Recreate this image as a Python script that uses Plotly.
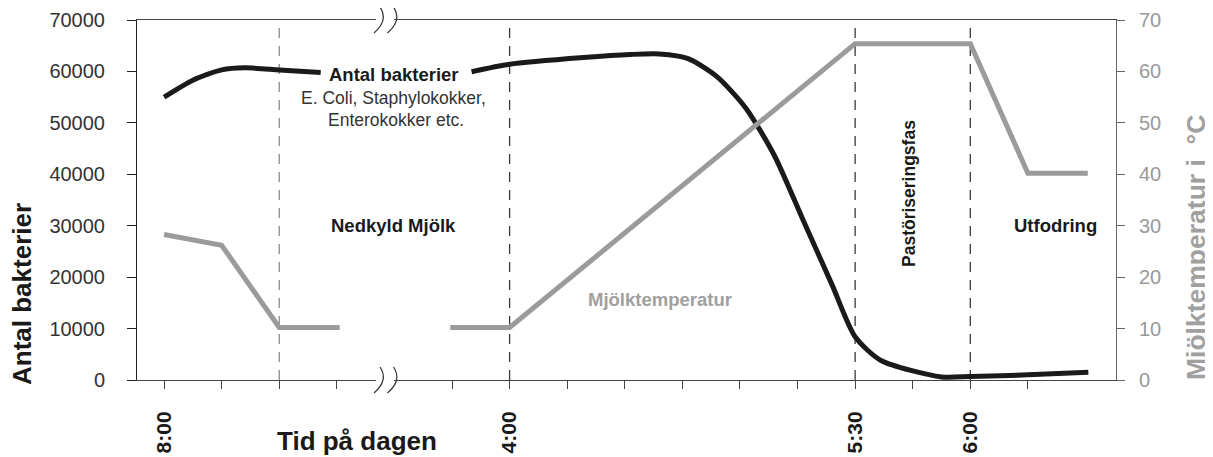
import plotly.graph_objects as go

# ---------------- data ----------------
tick_index = [0, 1, 2, 3, 5, 6, 7, 8, 9, 10, 11, 12, 13, 14, 15]
tick_text = ["8:00", "", "", "", "", "4:00", "", "", "", "", "", "5:30", "", "6:00", ""]

# bacteria count (left axis), two segments (gap for the label)
bact_x1 = [0, 0.5, 1.0, 1.4, 2.0, 2.72]
bact_y1 = [55000, 58300, 60300, 60700, 60300, 59800]
bact_x2 = [5.34, 6.0, 7.28, 8.1, 8.6, 9.1, 9.6, 10.1, 10.6, 11.1, 11.6, 12.0, 12.45, 13.5, 14.0, 15.0, 16.05]
bact_y2 = [59950, 61400, 62700, 63300, 63400, 62500, 59000, 52900, 43600, 31000, 18500, 8400, 3800, 600, 700, 1000, 1500]

# milk temperature (right axis), two segments (axis break)
temp_x1 = [0, 1, 2, 3.05]
temp_y1 = [28.3, 26.2, 10.2, 10.2]
temp_x2 = [4.97, 6, 12, 14, 15, 16.04]
temp_y2 = [10.2, 10.2, 65.4, 65.4, 40.2, 40.2]

phase_lines = [2, 6, 12, 14]
phase_colors = ["#8a8a8a", "#3a3a3a", "#3a3a3a", "#3a3a3a"]

# ---------------- layout geometry ----------------
# the page body adds an 8px margin, so the figure is made 8px smaller
# and all page-pixel positions below are converted accordingly
OFF = 8
W, H = 1213 - OFF, 457 - OFF
L_PAGE, T_PAGE = 137, 20
PW, PH = 979, 360
L, T = L_PAGE - OFF, T_PAGE - OFF
R, B = W - L - PW, H - T - PH
XMIN, XMAX = -0.47, 16.53


def px(x):
    return (x - L_PAGE) / PW


def py(y):
    return 1 - (y - T_PAGE) / PH


FONT = "Liberation Sans, Arial, Helvetica, sans-serif"
BLACK = "#1a1a1a"
GRAY = "#9b9b9b"

fig = go.Figure()
fig.add_trace(go.Scatter(x=bact_x1, y=bact_y1, mode="lines", line=dict(color=BLACK, width=5, shape="spline", smoothing=0.7), yaxis="y", hoverinfo="skip"))
fig.add_trace(go.Scatter(x=bact_x2, y=bact_y2, mode="lines", line=dict(color=BLACK, width=5, shape="spline", smoothing=0.7), yaxis="y", hoverinfo="skip"))
fig.add_trace(go.Scatter(x=temp_x1, y=temp_y1, mode="lines", line=dict(color=GRAY, width=5), yaxis="y2", hoverinfo="skip"))
fig.add_trace(go.Scatter(x=temp_x2, y=temp_y2, mode="lines", line=dict(color=GRAY, width=5), yaxis="y2", hoverinfo="skip"))

shapes = []
for xv, c in zip(phase_lines, phase_colors):
    shapes.append(dict(type="line", xref="x", yref="paper", x0=xv, x1=xv, y0=0, y1=1,
                       line=dict(color=c, width=1.3, dash="10px,8px"), layer="below"))

# axis break: white gaps + "))" marks on top and bottom border
for ymid in (T_PAGE, T_PAGE + PH):
    shapes.append(dict(type="rect", xref="paper", yref="paper", x0=px(376), x1=px(394),
                       y0=py(ymid + 2), y1=py(ymid - 2), fillcolor="white", line=dict(width=0), layer="above"))
    for x0 in (380, 393.5):
        top = (x0, ymid - 13)
        bot = (x0 - 6, ymid + 13)
        ctrl = (x0 + 9, ymid)
        path = "M {},{} Q {},{} {},{}".format(px(top[0]), py(top[1]), px(ctrl[0]), py(ctrl[1]), px(bot[0]), py(bot[1]))
        shapes.append(dict(type="path", xref="paper", yref="paper", path=path,
                           line=dict(color="#333333", width=1.2), layer="above"))

ann = []
def A(text, x, y, size, color, bold=True, angle=0):
    ann.append(dict(text=("<b>%s</b>" % text) if bold else text, xref="paper", yref="paper",
                    x=px(x), y=py(y), xanchor="center", yanchor="middle", showarrow=False,
                    textangle=angle, font=dict(family=FONT, size=size, color=color)))

A("Antal bakterier", 394, 74, 18.5, BLACK)
A("E. Coli, Staphylokokker,", 393, 98, 17.5, "#333333", bold=False)
A("Enterokokker etc.", 396, 120, 17.5, "#333333", bold=False)
A("Nedkyld Mjölk", 393, 225, 18.5, BLACK)
A("Mjölktemperatur", 660, 299, 18.5, "#a0a0a0")
A("Utfodring", 1055, 225, 18.5, BLACK)
A("Pastöriseringsfas", 909, 194, 17.5, BLACK, angle=-90)
A("Antal bakterier", 22, 294, 26, BLACK, angle=-90)
A("Mjölktemperatur i  °C", 1196, 248, 26.5, "#a0a0a0", angle=-90)
A("Tid på dagen", 357, 441, 26, BLACK)

fig.update_layout(
    width=W, height=H,
    margin=dict(l=L, r=R, t=T, b=B, pad=0, autoexpand=False),
    plot_bgcolor="white", paper_bgcolor="white",
    showlegend=False,
    font=dict(family=FONT),
    xaxis=dict(range=[XMIN, XMAX], tickmode="array", tickvals=tick_index, ticktext=tick_text,
               tickangle=-90, ticks="outside", ticklen=8, tickcolor="#444444", tickwidth=1,
               showline=True, linecolor="#444444", linewidth=1, mirror=True, automargin=False,
               showgrid=False, zeroline=False, ticklabelstandoff=14,
               tickfont=dict(family=FONT, size=21, color=BLACK, weight="bold")),
    yaxis=dict(range=[0, 70000], tickvals=[0, 10000, 20000, 30000, 40000, 50000, 60000, 70000],
               tickformat="d", automargin=False,
               ticks="outside", ticklen=9, tickcolor="#222222", showline=True, linecolor="#222222",
               linewidth=1, showgrid=False, zeroline=False, ticklabelstandoff=18,
               tickfont=dict(family=FONT, size=20, color="#333333")),
    yaxis2=dict(range=[0, 70], tickvals=[0, 10, 20, 30, 40, 50, 60, 70], overlaying="y", side="right",
                automargin=False,
                ticks="outside", ticklen=8, tickcolor="#666666", showline=True, linecolor="#666666",
                linewidth=1, showgrid=False, zeroline=False, ticklabelstandoff=10,
                tickfont=dict(family=FONT, size=20, color="#999999")),
    shapes=shapes,
    annotations=ann,
)

fig.write_html("out.html")
